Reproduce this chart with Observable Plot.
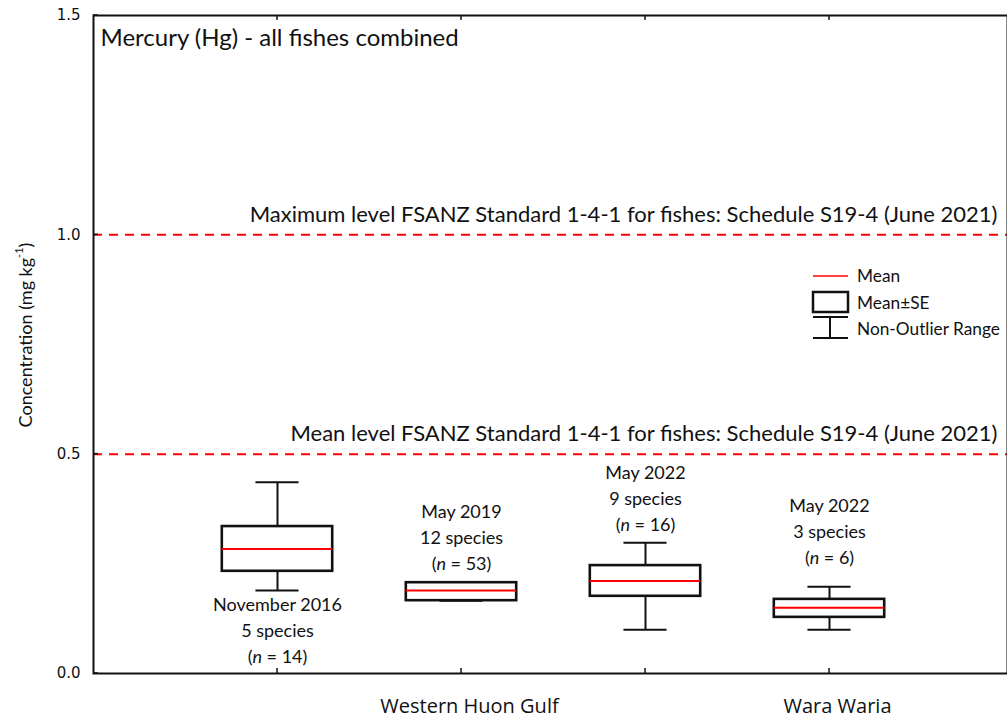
<!DOCTYPE html>
<html>
<head>
<meta charset="utf-8">
<script src="https://cdn.jsdelivr.net/npm/d3@7"></script>
<script src="https://cdn.jsdelivr.net/npm/@observablehq/plot@0.6"></script>
<style>
  html, body { margin: 0; padding: 0; background: #fff; }
  #chart svg { display: block; }
</style>
</head>
<body>
<div id="chart"></div>
<script>
// Survey groups along the x axis
const groupPos   = [1, 2, 3, 4];
const surveys    = ["November 2016", "May 2019", "May 2022", "May 2022"];
const speciesN   = [5, 12, 9, 3];
const fishN      = [14, 53, 16, 6];

// Mercury concentration summaries (mg/kg)
const meanHg     = [0.284, 0.189, 0.211, 0.150];
const seLow      = [0.233, 0.166, 0.176, 0.128];
const seHigh     = [0.335, 0.207, 0.246, 0.169];
const rangeLow   = [0.189, 0.166, 0.100, 0.100];
const rangeHigh  = [0.436, 0.207, 0.298, 0.198];

// Regions labelled under the axis
const regionNames = ["Western Huon Gulf", "Wara Waria"];
const regionPos   = [2, 4];

// FSANZ reference levels
const limitValues = [1.0, 0.5];
const limitLabels = [
  "Maximum level FSANZ Standard 1-4-1 for fishes: Schedule S19-4 (June 2021)",
  "Mean level FSANZ Standard 1-4-1 for fishes: Schedule S19-4 (June 2021)"
];

const yTicks = [0, 0.5, 1.0, 1.5];

const rows = groupPos.map((x, i) => ({
  x, survey: surveys[i], species: speciesN[i], n: fishN[i],
  mean: meanHg[i], seLo: seLow[i], seHi: seHigh[i],
  lo: rangeLow[i], hi: rangeHigh[i]
}));
const regions = regionNames.map((name, i) => ({name, x: regionPos[i]}));
const limits = limitValues.map((v, i) => ({v, label: limitLabels[i]}));

const BOX = 0.3;   // half box width in x units
const CAP = 0.117; // half whisker cap width
const RED = "#ff0000";

const calibri = "Lato, 'Open Sans', sans-serif";

const labelText = d => `${d.survey}\n${d.species} species\n(n = ${d.n})`;

const groupLabel = (filter, opts) => Plot.text(rows.filter(filter), {
  x: "x", text: labelText, fontSize: 18, lineHeight: 1.44,
  fontFamily: calibri, fill: "#111", ...opts
});

const plot = Plot.plot({
  width: 1007,
  height: 720,
  marginLeft: 93,
  marginTop: 15,
  marginBottom: 47,
  marginRight: 0,
  style: {fontFamily: "'DejaVu Sans', sans-serif", fontSize: "15px", color: "#111", background: "#fff"},
  x: {type: "linear", domain: [0, 5], range: [93, 1013]},
  y: {type: "linear", domain: [0, 1.5], range: [673, 15]},
  marks: [
    // reference levels
    Plot.ruleY(limits, {y: "v", stroke: RED, strokeWidth: 2, strokeDasharray: "9,7"}),
    Plot.text(limits, {y: "v", text: "label", frameAnchor: "right", textAnchor: "end",
      dx: -10, dy: -20, fontSize: 22, fontFamily: calibri, fill: "#111"}),

    // whiskers (non-outlier range)
    Plot.ruleX(rows, {x: "x", y1: "lo", y2: "seLo", stroke: "#111", strokeWidth: 2}),
    Plot.ruleX(rows, {x: "x", y1: "seHi", y2: "hi", stroke: "#111", strokeWidth: 2}),
    Plot.ruleY(rows, {y: "lo", x1: d => d.x - CAP, x2: d => d.x + CAP, stroke: "#111", strokeWidth: 2}),
    Plot.ruleY(rows, {y: "hi", x1: d => d.x - CAP, x2: d => d.x + CAP, stroke: "#111", strokeWidth: 2}),

    // mean ± SE boxes
    Plot.rect(rows, {x1: d => d.x - BOX, x2: d => d.x + BOX, y1: "seLo", y2: "seHi",
      fill: "#fff", stroke: "#111", strokeWidth: 2.6}),
    Plot.ruleY(rows, {y: "mean", x1: d => d.x - BOX, x2: d => d.x + BOX, stroke: RED, strokeWidth: 2}),

    // survey annotations
    groupLabel(d => d.x === 1, {y: "lo", lineAnchor: "top", dy: 2}),
    groupLabel(d => d.x === 2, {y: "hi", lineAnchor: "bottom", dy: -13}),
    groupLabel(d => d.x === 3, {y: "hi", lineAnchor: "bottom", dy: -12}),
    groupLabel(d => d.x === 4, {y: "hi", lineAnchor: "bottom", dy: -23}),

    // frame and axes
    Plot.frame({stroke: "#111", strokeWidth: 2}),
    Plot.axisY(yTicks, {tickSize: 0, tickPadding: 13, tickFormat: d3.format(".1f"), label: null}),
    Plot.axisX(groupPos, {anchor: "bottom", tickSize: 0, tickFormat: () => "", label: null}),

    // region names
    Plot.text(regions, {x: "x", text: "name", frameAnchor: "bottom", dx: 8, dy: 39,
      fontSize: 20, fontFamily: "'Open Sans', sans-serif", fill: "#111"}),

    // panel title
    Plot.text(["Mercury (Hg) - all fishes combined"], {frameAnchor: "top-left", dx: 7, dy: 13,
      fontSize: 24, fontFamily: calibri, fill: "#111", lineAnchor: "top", textAnchor: "start"})
  ]
});

const svg = d3.select(plot);
const xs = plot.scale("x"), ys = plot.scale("y");

// inward tick marks on bottom, top and left edges
const g = svg.append("g").attr("stroke", "#111").attr("stroke-width", 1.5);
groupPos.forEach(p => {
  const px = xs.apply(p);
  g.append("line").attr("x1", px).attr("x2", px).attr("y1", ys.apply(0)).attr("y2", ys.apply(0) - 5);
  g.append("line").attr("x1", px).attr("x2", px).attr("y1", ys.apply(1.5)).attr("y2", ys.apply(1.5) + 5);
});
yTicks.forEach(t => {
  const py = ys.apply(t);
  g.append("line").attr("x1", xs.apply(0)).attr("x2", xs.apply(0) + 5).attr("y1", py).attr("y2", py);
});

// italic n in sample sizes
svg.selectAll("tspan").each(function() {
  const t = this.textContent;
  if (t.startsWith("(n = ")) {
    const rest = t.slice(2);
    this.textContent = "(";
    d3.select(this).append("tspan").attr("font-style", "italic").text("n");
    d3.select(this).append("tspan").text(rest);
  }
});

// y axis title with superscript
const yl = svg.append("text")
  .attr("transform", "translate(27,335) rotate(-90)")
  .attr("text-anchor", "middle")
  .attr("dominant-baseline", "middle")
  .attr("font-family", calibri)
  .attr("font-size", 18)
  .attr("fill", "#111");
yl.append("tspan").text("Concentration (mg kg");
yl.append("tspan").attr("font-size", 11).attr("dy", -7).text("-1");
yl.append("tspan").attr("dy", 7).text(")");

// legend
const lg = svg.append("g").attr("font-family", calibri).attr("font-size", 17.3)
  .attr("fill", "#111").attr("text-anchor", "start");
lg.append("line").attr("x1", 813).attr("x2", 848).attr("y1", 276).attr("y2", 276)
  .attr("stroke", RED).attr("stroke-width", 1.5);
lg.append("text").attr("x", 857).attr("y", 276).attr("dy", "0.35em").text("Mean");
lg.append("rect").attr("x", 813).attr("y", 292).attr("width", 35).attr("height", 20)
  .attr("fill", "#fff").attr("stroke", "#111").attr("stroke-width", 2.5);
lg.append("text").attr("x", 857).attr("y", 303).attr("dy", "0.35em").text("Mean±SE");
const wk = lg.append("g").attr("stroke", "#111").attr("stroke-width", 2);
wk.append("line").attr("x1", 813).attr("x2", 848).attr("y1", 317).attr("y2", 317);
wk.append("line").attr("x1", 813).attr("x2", 848).attr("y1", 338).attr("y2", 338);
wk.append("line").attr("x1", 830).attr("x2", 830).attr("y1", 317).attr("y2", 338);
lg.append("text").attr("x", 857).attr("y", 329).attr("dy", "0.35em").text("Non-Outlier Range");

document.getElementById("chart").appendChild(plot);
</script>
</body>
</html>
